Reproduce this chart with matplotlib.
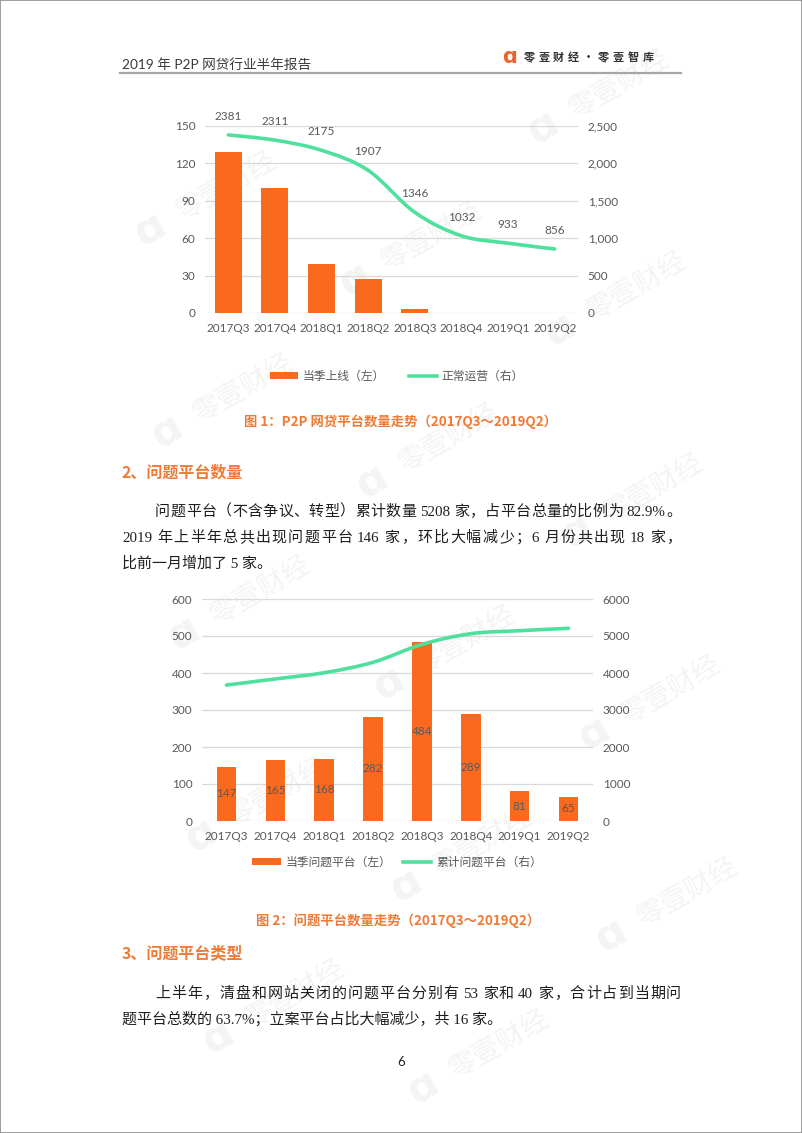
import re
import numpy as np
import matplotlib
matplotlib.use('Agg')
import matplotlib.pyplot as plt
from matplotlib.path import Path
from matplotlib.patches import PathPatch, Patch, Rectangle
from matplotlib.lines import Line2D
from matplotlib.ticker import FuncFormatter

plt.rcParams['font.family'] = ['Lato', 'Noto Sans CJK SC', 'DejaVu Sans']

# data
quarters = ['2017Q3', '2017Q4', '2018Q1', '2018Q2', '2018Q3', '2018Q4', '2019Q1', '2019Q2']
new_online = [129, 100, 39, 27, 3, 0, 0, 0]
operating = [2381, 2311, 2175, 1907, 1346, 1032, 933, 856]
problem_q = [147, 165, 168, 282, 484, 289, 81, 65]
problem_total = [3674, 3839, 4007, 4289, 4773, 5062, 5143, 5208]

legend1 = ['当季上线（左）', '正常运营（右）']
legend2 = ['当季问题平台（左）', '累计问题平台（右）']
caption1 = '图 1：P2P 网贷平台数量走势（2017Q3～2019Q2）'
caption2 = '图 2：问题平台数量走势（2017Q3～2019Q2）'
header = '2019 年 P2P 网贷行业半年报告'
brand = '零壹财经·零壹智库'
head2 = '2、问题平台数量'
head3 = '3、问题平台类型'
para2 = ['问题平台（不含争议、转型）累计数量 5208 家，占平台总量的比例为 82.9%。',
         '2019 年上半年总共出现问题平台 146 家，环比大幅减少；6 月份共出现 18 家，',
         '比前一月增加了 5 家。']
para3 = ['上半年，清盘和网站关闭的问题平台分别有 53 家和 40 家，合计占到当期问',
         '题平台总数的 63.7%；立案平台占比大幅减少，共 16 家。']

ORANGE = '#FA6A1E'
GREEN = '#4FE09E'
HEAD = '#EE7A35'
TICK = '#595959'
GRID = '#D9D9D9'

W, H = 802, 1133
fig = plt.figure(figsize=(W / 100, H / 100), dpi=100)
renderer = fig.canvas.get_renderer()


def fx(x):
    return x / W


def fy(y):
    return 1 - y / H


def smooth_path(xs, ys):
    # excel-like smoothed line drawn as bezier segments
    xs = np.asarray(xs, float)
    ys = np.asarray(ys, float)
    n = len(xs)
    verts = [(xs[0], ys[0])]
    codes = [Path.MOVETO]
    for i in range(n - 1):
        a = max(i - 1, 0)
        b = min(i + 2, n - 1)
        c1 = (xs[i] + (xs[i + 1] - xs[a]) / 6, ys[i] + (ys[i + 1] - ys[a]) / 6)
        c2 = (xs[i + 1] - (xs[b] - xs[i]) / 6, ys[i + 1] - (ys[b] - ys[i]) / 6)
        verts += [c1, c2, (xs[i + 1], ys[i + 1])]
        codes += [Path.CURVE4] * 3
    return Path(verts, codes)


def style(ax):
    for s in ax.spines.values():
        s.set_visible(False)
    ax.patch.set_alpha(0)
    ax.tick_params(length=0, labelsize=8.5, colors=TICK, pad=7)


body = dict(fontsize=10.8, color='#1E1E1E', family=['Liberation Serif', 'Noto Sans CJK SC'],
            va='baseline', ha='left')


def justify(text, x0, x1, y):
    # spread the visible tokens of one line evenly between x0 and x1 (pixels)
    toks = re.findall(r'[A-Za-z0-9.%]+|\s|[^\sA-Za-z0-9.%]', text)
    items = []
    lead = 0
    for t in toks:
        if t.isspace():
            lead += 3.5
            continue
        tx = fig.text(fx(x0), fy(y), t, **body)
        items.append((tx, lead, tx.get_window_extent(renderer=renderer).width))
        lead = 0
    total = sum(l + w for _, l, w in items)
    gap = (x1 - x0 - total) / (len(items) - 1)
    x = x0
    for tx, l, w in items:
        x += l
        tx.set_position((fx(x), fy(y)))
        x += w + gap


# watermark
v1 = np.array([205, 50])
v2 = np.array([17, 202])
origin = np.array([150, 230])
ang = np.deg2rad(30)
for i in range(-4, 6):
    for j in range(-3, 7):
        p = origin + i * v1 + j * v2
        if 25 < p[0] < W - 140 and 90 < p[1] < H - 25:
            fig.text(fx(p[0]), fy(p[1]), 'ɑ', fontsize=30, fontweight='bold', color='#F4F4F4',
                     family='DejaVu Sans', ha='center', va='center', rotation=30, zorder=-2)
            fig.text(fx(p[0] + 32 * np.cos(ang)), fy(p[1] - 32 * np.sin(ang)), '零壹财经',
                     fontsize=20, color='#F4F4F4', family='Noto Sans CJK SC',
                     ha='left', va='center', rotation=30, rotation_mode='anchor', zorder=-2)

# header
fig.text(fx(122), fy(64), header, fontsize=9.8, color='#3A3A3A', ha='left', va='center')
fig.add_artist(Line2D([fx(120), fx(681)], [fy(73), fy(73)], color='#A6A6A6', lw=1.6))
fig.text(fx(510), fy(57), 'ɑ', fontsize=15, fontweight='bold', color='#E8642C',
         family='DejaVu Sans', ha='center', va='center')
for k, ch in enumerate(brand):
    fig.text(fx(529 + k * 14.9), fy(57), ch, fontsize=8, fontweight='bold', color='#333333',
             family='Noto Sans CJK SC', ha='center', va='center')

x = np.arange(len(quarters))

# chart 1
ax1 = fig.add_axes([fx(205), fy(313), (578 - 205) / W, (313 - 126) / H])
style(ax1)
ax1.bar(x, new_online, width=0.58, color=ORANGE, zorder=2)
ax1.set_xlim(-0.5, 7.5)
ax1.set_ylim(0, 150)
ax1.set_yticks(range(0, 151, 30))
ax1.set_xticks(x)
ax1.set_xticklabels(quarters)
ax1.grid(axis='y', color=GRID, lw=0.9)
ax1.set_axisbelow(True)
ax1r = ax1.twinx()
style(ax1r)
ax1r.set_ylim(0, 2500)
ax1r.set_yticks(range(0, 2501, 500))
ax1r.yaxis.set_major_formatter(FuncFormatter(lambda v, p: '{:,.0f}'.format(v)))
ax1r.add_patch(PathPatch(smooth_path(x, operating), fill=False, ec=GREEN, lw=2.6,
                         capstyle='round', zorder=3))
for i, v in enumerate(operating):
    ax1r.annotate(str(v), (i, v), xytext=(0, 13.5), textcoords='offset points',
                  ha='center', va='center', fontsize=8.5, color=TICK)

fig.legend([Patch(fc=ORANGE, ec='none'), Line2D([], [], color=GREEN, lw=2.6)], legend1,
           loc='center', bbox_to_anchor=(fx(397), fy(376)), ncol=2, frameon=False,
           handlelength=2.4, handleheight=0.6, handletextpad=0.4, columnspacing=2.0,
           prop={'size': 8.5}, labelcolor=TICK)
fig.text(fx(401), fy(422), caption1, fontsize=9.6, fontweight='bold', color=HEAD,
         family=['Noto Sans CJK SC', 'DejaVu Sans'], ha='center', va='center')

# section 2 text
fig.text(fx(122), fy(473), head2, fontsize=11.5, fontweight='bold', color=HEAD,
         family=['Noto Sans CJK SC'], ha='left', va='center')
justify(para2[0], 155, 681, 516)
justify(para2[1], 122, 681, 542)
fig.text(fx(122), fy(568), para2[2], **body)

# chart 2
ax2 = fig.add_axes([fx(202), fy(821), (593 - 202) / W, (821 - 599) / H])
style(ax2)
ax2.bar(x, problem_q, width=0.40, color=ORANGE, zorder=2)
for i, v in enumerate(problem_q):
    ax2.text(i, v / 2, str(v), ha='center', va='center', fontsize=8.5, color=TICK, zorder=4)
ax2.set_xlim(-0.5, 7.5)
ax2.set_ylim(0, 600)
ax2.set_yticks(range(0, 601, 100))
ax2.set_xticks(x)
ax2.set_xticklabels(quarters)
ax2.grid(axis='y', color=GRID, lw=0.9)
ax2.set_axisbelow(True)
ax2r = ax2.twinx()
style(ax2r)
ax2r.set_ylim(0, 6000)
ax2r.set_yticks(range(0, 6001, 1000))
ax2r.add_patch(PathPatch(smooth_path(x, problem_total), fill=False, ec=GREEN, lw=2.6,
                         capstyle='round', zorder=3))

fig.legend([Patch(fc=ORANGE, ec='none'), Line2D([], [], color=GREEN, lw=2.6)], legend2,
           loc='center', bbox_to_anchor=(fx(397), fy(862)), ncol=2, frameon=False,
           handlelength=2.4, handleheight=0.6, handletextpad=0.4, columnspacing=1.0,
           prop={'size': 8.5}, labelcolor=TICK)
fig.text(fx(398), fy(921), caption2, fontsize=9.6, fontweight='bold', color=HEAD,
         family=['Noto Sans CJK SC', 'DejaVu Sans'], ha='center', va='center')

# section 3 text
fig.text(fx(122), fy(953), head3, fontsize=11.5, fontweight='bold', color=HEAD,
         family=['Noto Sans CJK SC'], ha='left', va='center')
justify(para3[0], 155, 681, 998)
fig.text(fx(122), fy(1024), para3[1], **body)

fig.text(fx(401), fy(1062), '6', fontsize=9.5, color='#222222', ha='center', va='center')

# page border
fig.add_artist(Rectangle((0, 0), 1, 1, transform=fig.transFigure, fill=False,
                         ec='#8C8C8C', lw=1.2))

fig.savefig('out.png', dpi=100)
